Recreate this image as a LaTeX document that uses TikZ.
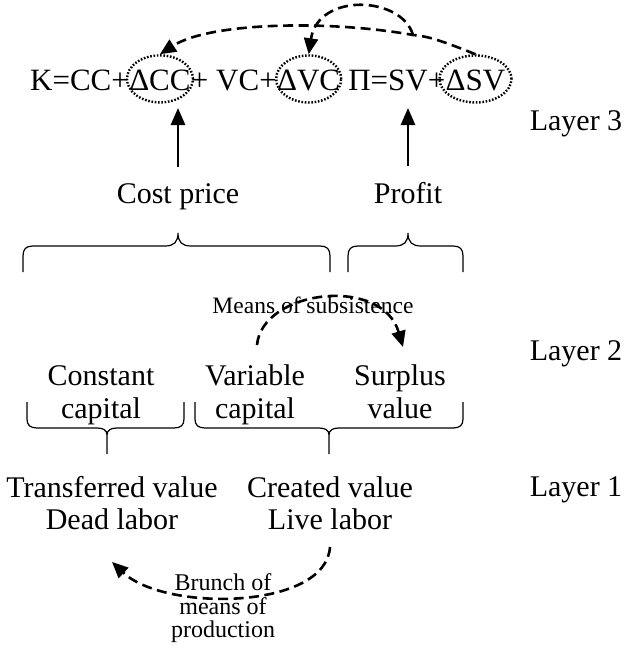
\documentclass[tikz,border=0pt]{standalone}
\usepackage{fontspec}
\setmainfont{Liberation Serif}
\usetikzlibrary{shapes.geometric,arrows.meta}
\begin{document}
\begin{tikzpicture}[x=1pt,y=-1pt,
  lbl/.style={font=\fontsize{30}{31}\selectfont, inner sep=0pt, anchor=base},
  eqn/.style={font=\fontsize{31}{34}\selectfont, inner sep=0pt, anchor=base west},
  smalltxt/.style={font=\fontsize{23.5}{25}\selectfont, inner sep=0pt, anchor=base},
  dotell/.style={draw, ellipse, line width=2.4pt, dash pattern=on 1.6pt off 1.7pt, minimum height=47pt, inner sep=0pt},
  dsh/.style={line width=2.6pt, dash pattern=on 10pt off 5.5pt, -{Triangle[length=16pt,width=14pt]}},
  uparr/.style={line width=2.7pt, -{Triangle[length=17pt,width=14pt]}},
  brc/.style={line width=1.2pt}
]
\useasboundingbox (0,0) rectangle (632,651);

% formula
\node[eqn] (f1) at (30,90) {K=CC+};
\node[eqn] (f2) at (f1.base east) {ΔCC};
\node[eqn] (f3) at (f2.base east) {+ VC+};
\node[eqn] (f4) at (f3.base east) {ΔVC};
\node[eqn] (f5) at (f4.base east) {\hspace{0.25em}Π=SV+};
\node[eqn] (f6) at (f5.base east) {ΔSV};
\node[dotell, minimum width=66pt] (e1) at ([yshift=1pt]f2.center) {};
\node[dotell, minimum width=65pt] (e2) at ([yshift=1pt]f4.center) {};
\node[dotell, minimum width=72pt] (e3) at ([yshift=1pt]f6.center) {};

% top dashed arrows
\coordinate (j) at (413,35);
\draw[dsh] (e3.north) .. controls (445,42) and (428,36) .. (j) .. controls (330,20) and (210,22) .. (e1.north);
\draw[dsh] (j) .. controls (402,-4) and (318,-8) .. (e2.north);

% layer 3
\node[lbl] (cost) at (178,203) {Cost price};
\node[lbl] (profit) at (408,203) {Profit};
\node[lbl] (l3) at (576,130) {Layer 3};
\coordinate (a1) at (178,108);
\coordinate (a2) at (408,108);
\draw[uparr] (cost.north) ++(0,-16) -- (a1);
\draw[uparr] (profit.north) ++(0,-16) -- (a2);

% top braces
\draw[brc] (23,272) -- (23,256) .. controls (23,249) and (26,246) .. (33,246) -- (165,246)
  .. controls (174,246) and (178,242) .. (178,233) .. controls (178,242) and (182,246) .. (191,246)
  -- (320,246) .. controls (327,246) and (330,249) .. (330,256) -- (330,272);
\draw[brc] (348,272) -- (348,256) .. controls (348,249) and (351,246) .. (358,246) -- (395,246)
  .. controls (404,246) and (408,242) .. (408,233) .. controls (408,242) and (412,246) .. (421,246)
  -- (453,246) .. controls (460,246) and (463,249) .. (463,256) -- (463,272);

% layer 2
\node[smalltxt] (mos) at (313,313) {Means of subsistence};
\node[lbl] (l2) at (576,360) {Layer 2};
\node[lbl] (const1) at (101,385) {Constant};
\node[lbl] (const2) at (101,418) {capital};
\node[lbl] (var1) at (255,385) {Variable};
\node[lbl] (var2) at (255,418) {capital};
\node[lbl] (surp1) at (400,385) {Surplus};
\node[lbl] (surp2) at (400,418) {value};
\coordinate (m1) at (257,345);
\coordinate (m2) at (403,347);
\draw[dsh] (m1) .. controls (262,290) and (382,275) .. (m2);

% bottom braces
\draw[brc] (27,402) -- (27,419) .. controls (27,425) and (30,428) .. (37,428) -- (97,428)
  .. controls (103,428) and (107,430) .. (107,435) -- (107,454) (107,435)
  .. controls (107,430) and (111,428) .. (117,428) -- (174,428)
  .. controls (181,428) and (184,425) .. (184,419) -- (184,402);
\draw[brc] (195,402) -- (195,419) .. controls (195,425) and (198,428) .. (205,428) -- (319,428)
  .. controls (325,428) and (329,430) .. (329,435) -- (329,454) (329,435)
  .. controls (329,430) and (333,428) .. (339,428) -- (453,428)
  .. controls (460,428) and (463,425) .. (463,419) -- (463,402);

% layer 1
\node[lbl] (trans1) at (112,497) {Transferred value};
\node[lbl] (trans2) at (112,529) {Dead labor};
\node[lbl] (cre1) at (330,497) {Created value};
\node[lbl] (cre2) at (330,529) {Live labor};
\node[lbl] (l1) at (576,496) {Layer 1};
\node[smalltxt, font=\fontsize{24}{25}\selectfont] (br1) at (223,590) {Brunch of};
\node[smalltxt, font=\fontsize{24}{25}\selectfont] (br2) at (223,614) {means of};
\node[smalltxt, font=\fontsize{24}{25}\selectfont] (br3) at (223,637) {production};
\coordinate (b1) at (330,547);
\coordinate (b2) at (112,562);
\draw[dsh] (b1) .. controls (326,610) and (165,612) .. (b2);
\end{tikzpicture}
\end{document}
